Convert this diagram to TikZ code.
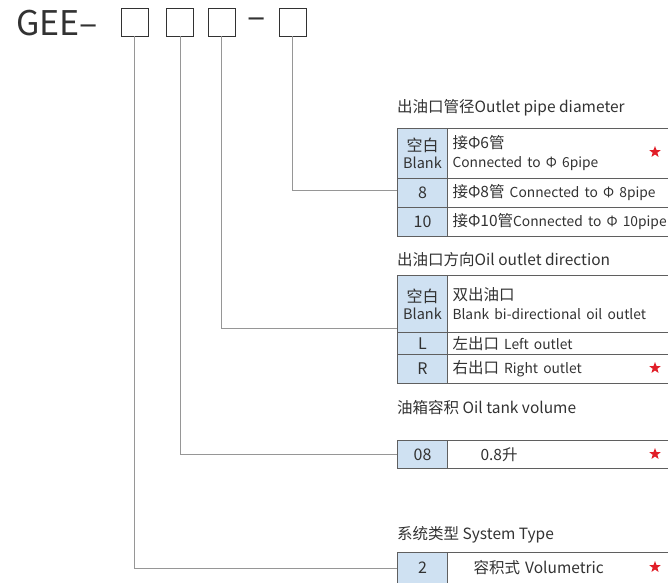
\documentclass[tikz,border=0pt]{standalone}
\usepackage{fontspec}
\setmainfont{Noto Sans CJK SC}
\usetikzlibrary{positioning,shapes.geometric}
\definecolor{cellblue}{RGB}{207,225,242}
\definecolor{rulegray}{RGB}{95,95,95}
\definecolor{wiregray}{RGB}{150,150,150}
\definecolor{inkgray}{RGB}{50,50,50}
\definecolor{starred}{RGB}{225,30,40}
\newcommand{\fsz}[2]{\fontsize{#1}{#2}\selectfont}
\newcommand{\lat}[1]{{\fsz{13.8}{18}#1}}

\tikzset{
  codebox/.style={draw=inkgray,line width=0.9pt,minimum width=27,minimum height=28,inner sep=0},
  codetext/.style={inner sep=2,text=inkgray,font=\fsz{34}{38}},
  keycell/.style={draw=rulegray,fill=cellblue,line width=1pt,minimum width=50,inner sep=0,
    anchor=north west,align=center,text=inkgray,font=\fsz{16}{17}},
  desccell/.style={draw=rulegray,line width=1pt,minimum width=260,text width=250,inner xsep=5,inner ysep=0,
    anchor=north west,align=left,text=inkgray,font=\fsz{15.5}{19}},
  heading/.style={anchor=west,inner sep=0,text=inkgray,font=\fsz{15.5}{17}},
  wire/.style={draw=wiregray,line width=0.9pt},
  redstar/.style={star,star points=5,star point ratio=2.4,fill=starred,minimum size=12,inner sep=0}
}

\begin{document}
\begin{tikzpicture}[x=1pt,y=-1pt]
  \useasboundingbox (0,0) rectangle (668,582);
  \clip (0,0) rectangle (668,582);

  % model code
  \node[codetext,anchor=west] (gee) at (14,23) {GEE–};
  \foreach \x [count=\i] in {134.5,180,221.5,292.5}
    \node[codebox] (b\i) at (\x,22) {};
  \node[codetext] (dash) at (256.5,23) {–};

  % outlet pipe diameter
  \node[heading] (h1) at (397,108) {出油口管径Outlet pipe diameter};
  \node[keycell,minimum height=50] (p0) at (397,128) {空白\\{\fsz{14.5}{16}Blank}};
  \node[desccell,minimum height=50] (p0d) at (447,128) {接Φ6管\\\lat{Connected to Φ 6pipe}};
  \node[keycell,minimum height=29] (p1) at (397,178) {8};
  \node[desccell,minimum height=29] (p1d) at (447,178) {接Φ8管 \lat{Connected to Φ 8pipe}};
  \node[keycell,minimum height=29] (p2) at (397,207) {10};
  \node[desccell,minimum height=29] (p2d) at (447,207) {接Φ10管\lat{Connected to Φ 10pipe}};
  \node[redstar] (s1) at (655,152) {};

  % oil outlet direction
  \node[heading] (h2) at (397,260) {出油口方向Oil outlet direction};
  \node[keycell,minimum height=57] (q0) at (397,275) {空白\\{\fsz{14.5}{16}Blank}};
  \node[desccell,minimum height=57] (q0d) at (447,275) {双出油口\\\lat{Blank bi-directional oil outlet}};
  \node[keycell,minimum height=22] (q1) at (397,332) {L};
  \node[desccell,minimum height=22] (q1d) at (447,332) {左出口 \lat{Left outlet}};
  \node[keycell,minimum height=29] (q2) at (397,354) {R};
  \node[desccell,minimum height=29] (q2d) at (447,354) {右出口 \lat{Right outlet}};
  \node[redstar] (s2) at (655,368) {};

  % oil tank volume
  \node[heading] (h3) at (397,408) {油箱容积 Oil tank volume};
  \node[keycell,minimum height=28] (v0) at (397,440) {08};
  \node[desccell,minimum height=28] (v0d) at (447,440) {\hspace*{28pt}0.8升};
  \node[redstar] (s3) at (655,454) {};

  % system type
  \node[heading] (h4) at (397,535) {系统类型 System Type};
  \node[keycell,minimum height=31] (t0) at (397,552) {2};
  \node[desccell,minimum height=31] (t0d) at (447,552) {\hspace*{21pt}容积式 Volumetric};
  \node[redstar] (s4) at (655,567) {};

  % leaders
  \draw[wire] (b4.south) |- ([yshift=3pt]p1.west);
  \draw[wire] (b3.south) |- ([yshift=5pt]q0.south west);
  \draw[wire] (b2.south) |- (v0.west);
  \draw[wire] (b1.south) |- (t0.west);
\end{tikzpicture}
\end{document}
